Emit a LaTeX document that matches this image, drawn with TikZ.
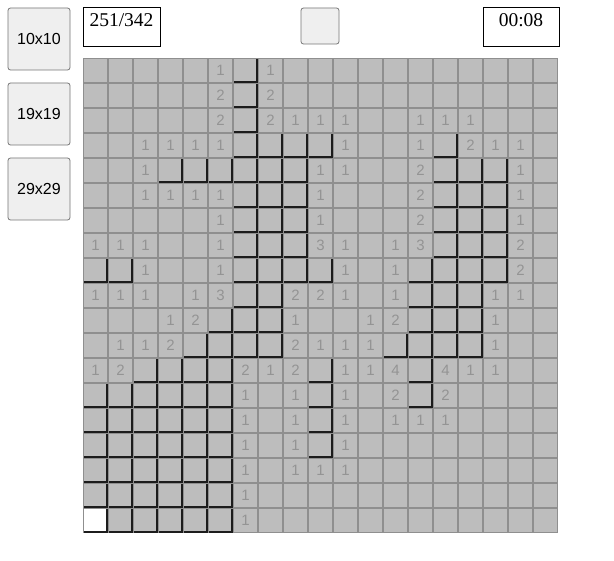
\documentclass[tikz,border=0pt]{standalone}
\usepackage{fontspec}
\setmainfont{Liberation Serif}
\newfontfamily\arialf{Liberation Sans}
\definecolor{cellfill}{RGB}{189,189,189}
\definecolor{gridline}{RGB}{143,143,143}
\definecolor{edgeblack}{RGB}{28,28,28}
\definecolor{numgray}{RGB}{148,148,148}
\definecolor{btnfill}{RGB}{239,239,239}
\definecolor{btnborder}{RGB}{118,118,118}
\def\codeD{D}
\def\codeW{W}
\def\codeE{.}
\newcommand\mydarkedges{%
  \fill[edgeblack] (\xa+23,\ya+1) rectangle (\xa+25,\ya+25);
  \fill[edgeblack] (\xa+1,\ya+23) rectangle (\xa+25,\ya+25);}
\begin{document}
\begin{tikzpicture}[x=1pt,y=-1pt,
  sizebtn/.style={draw=btnborder, fill=btnfill, rounded corners=2.5pt, line width=0.8pt,
    minimum width=62pt, minimum height=62pt, inner sep=0pt,
    font=\arialf\fontsize{16}{16}\selectfont},
  facebtn/.style={draw=btnborder, fill=btnfill, rounded corners=2.5pt, line width=0.8pt,
    minimum width=38pt, minimum height=36pt, inner sep=0pt},
  infobox/.style={draw=black, fill=white, line width=1pt, inner sep=0pt,
    minimum height=39pt},
  infotext/.style={inner sep=0pt, anchor=base, font=\fontsize{19.5}{20}\selectfont},
  num/.style={inner sep=0pt, text=numgray, font=\arialf\fontsize{15}{15}\selectfont}]
\useasboundingbox (0,0) rectangle (614,561);
\fill[white] (0,0) rectangle (614,561);
% size buttons
\node[sizebtn] (b10) at (39,39) {10x10};
\node[sizebtn] (b19) at (39,114) {19x19};
\node[sizebtn] (b29) at (39,189) {29x29};
% counter
\node[infobox, minimum width=77pt] (counter) at (121.5,27.5) {};
\node[infotext] (countertext) at (121.5,27) {251/342};
% face button
\node[facebtn] (face) at (320,26) {};
% timer
\node[infobox, minimum width=76pt] (timer) at (521,27.5) {};
\node[infotext] (timertext) at (521,27) {00:08};
% grid
\fill[gridline] (83,58) rectangle (558,533);
\foreach \rowlist [count=\r from 0] in {
 {.,.,.,.,.,1,D,1,.,.,.,.,.,.,.,.,.,.,.},
 {.,.,.,.,.,2,D,2,.,.,.,.,.,.,.,.,.,.,.},
 {.,.,.,.,.,2,D,2,1,1,1,.,.,1,1,1,.,.,.},
 {.,.,1,1,1,1,D,D,D,D,1,.,.,1,D,2,1,1,.},
 {.,.,1,D,D,D,D,D,D,1,1,.,.,2,D,D,D,1,.},
 {.,.,1,1,1,1,D,D,D,1,.,.,.,2,D,D,D,1,.},
 {.,.,.,.,.,1,D,D,D,1,.,.,.,2,D,D,D,1,.},
 {1,1,1,.,.,1,D,D,D,3,1,.,1,3,D,D,D,2,.},
 {D,D,1,.,.,1,D,D,D,D,1,.,1,D,D,D,D,2,.},
 {1,1,1,.,1,3,D,D,2,2,1,.,1,D,D,D,1,1,.},
 {.,.,.,1,2,D,D,D,1,.,.,1,2,D,D,D,1,.,.},
 {.,1,1,2,D,D,D,D,2,1,1,1,D,D,D,D,1,.,.},
 {1,2,D,D,D,D,2,1,2,D,1,1,4,D,4,1,1,.,.},
 {D,D,D,D,D,D,1,.,1,D,1,.,2,D,2,.,.,.,.},
 {D,D,D,D,D,D,1,.,1,D,1,.,1,1,1,.,.,.,.},
 {D,D,D,D,D,D,1,.,1,D,1,.,.,.,.,.,.,.,.},
 {D,D,D,D,D,D,1,.,1,1,1,.,.,.,.,.,.,.,.},
 {D,D,D,D,D,D,1,.,.,.,.,.,.,.,.,.,.,.,.},
 {W,D,D,D,D,D,1,.,.,.,.,.,.,.,.,.,.,.,.}}{
  \foreach \v [count=\c from 0] in \rowlist {
    \pgfmathsetmacro\xa{83+25*\c}
    \pgfmathsetmacro\ya{58+25*\r}
    \ifx\v\codeW
      \fill[white] (\xa+1,\ya+1) rectangle (\xa+24,\ya+24);
      \mydarkedges
    \else
      \fill[cellfill] (\xa+1,\ya+1) rectangle (\xa+24,\ya+24);
      \ifx\v\codeD
        \mydarkedges
      \else
        \ifx\v\codeE\else
          \node[num] (n\r-\c) at (\xa+12.5,\ya+12) {\v};
        \fi
      \fi
    \fi
  }
}
\end{tikzpicture}
\end{document}
